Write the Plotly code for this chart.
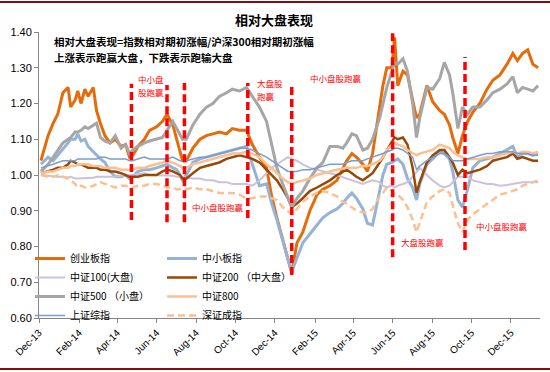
import plotly.graph_objects as go

# ---------------- data ----------------
dates = ["2013-12-04","2013-12-15","2013-12-23","2013-12-30","2014-01-07","2014-01-15","2014-01-19","2014-01-26",
         "2014-01-30","2014-02-04","2014-02-10","2014-02-15","2014-02-23","2014-02-28","2014-03-06","2014-03-13",
         "2014-03-21","2014-03-29","2014-04-07","2014-04-14","2014-04-20","2014-04-25","2014-05-03","2014-05-13",
         "2014-05-21","2014-06-01","2014-06-10","2014-06-17","2014-06-26","2014-07-02","2014-07-07","2014-07-11",
         "2014-07-17","2014-07-27","2014-08-07","2014-08-17","2014-08-27","2014-09-06","2014-09-17","2014-09-26",
         "2014-10-07","2014-10-18","2014-10-27","2014-11-07","2014-11-18","2014-11-26","2014-12-04","2014-12-13",
         "2014-12-21","2014-12-27","2015-01-04","2015-01-13","2015-01-24","2015-02-04","2015-02-13","2015-02-24",
         "2015-03-07","2015-03-16","2015-03-22","2015-03-30","2015-04-06","2015-04-16","2015-04-23","2015-05-01",
         "2015-05-12","2015-05-17","2015-05-23","2015-05-31","2015-06-04","2015-06-09","2015-06-17","2015-06-24",
         "2015-07-02","2015-07-08","2015-07-13","2015-07-24","2015-08-02","2015-08-13","2015-08-20","2015-08-28",
         "2015-09-02","2015-09-10","2015-09-17","2015-09-25","2015-10-03","2015-10-14","2015-10-25","2015-11-03",
         "2015-11-14","2015-11-25","2015-12-04","2015-12-11","2015-12-19","2015-12-27","2016-01-04","2016-01-12"]

cyb = [1.04,1.11,1.145,1.17,1.23,1.245,1.19,1.21,1.235,1.20,1.24,1.22,1.245,1.18,1.145,1.11,
       1.09,1.10,1.08,1.085,1.05,1.055,1.08,1.10,1.125,1.135,1.15,1.17,1.14,1.10,1.06,1.04,
       1.04,1.075,1.10,1.11,1.115,1.12,1.115,1.13,1.125,1.125,1.085,1.05,1.02,0.94,0.88,0.82,
       0.77,0.725,0.81,0.84,0.90,0.945,0.96,0.97,0.985,1.02,1.04,1.06,1.05,1.03,1.01,1.06,
       1.20,1.25,1.30,1.30,1.385,1.25,1.29,1.28,1.21,1.16,1.17,1.25,1.205,1.18,1.17,1.14,
       1.105,1.06,1.11,1.15,1.175,1.20,1.24,1.265,1.28,1.31,1.34,1.32,1.34,1.35,1.31,1.30]

zxb = [1.03,1.05,1.04,1.055,1.07,1.09,1.10,1.10,1.115,1.095,1.10,1.08,1.065,1.055,1.045,1.035,
       1.01,0.995,0.995,1.00,0.99,0.995,1.01,1.015,1.015,1.02,1.025,1.03,1.02,1.015,1.00,0.985,
       1.00,1.035,1.045,1.05,1.055,1.06,1.065,1.07,1.075,1.08,1.03,0.97,0.975,0.92,0.875,0.815,
       0.765,0.73,0.77,0.81,0.835,0.86,0.88,0.895,0.905,0.92,0.935,0.95,0.935,0.905,0.865,0.86,
       0.96,1.00,1.03,1.035,1.04,1.045,1.03,0.99,0.965,0.93,0.975,1.03,1.045,1.065,1.06,1.045,
       1.01,0.93,0.91,0.96,1.02,1.04,1.045,1.05,1.06,1.07,1.08,1.05,1.06,1.06,1.055,1.06]

zz100 = [1.00,0.998,0.995,0.995,0.995,0.993,0.995,0.99,0.99,0.99,0.99,0.99,0.992,0.995,0.995,0.995,
         0.995,0.995,0.998,1.00,1.00,1.00,1.002,1.005,1.00,1.00,1.00,1.00,0.998,0.995,0.995,0.995,
         0.993,0.99,0.99,0.985,0.985,0.98,0.98,0.975,0.975,0.975,0.97,0.985,1.005,1.02,1.03,1.04,
         1.05,1.045,1.04,1.03,1.02,1.015,1.01,1.005,1.00,0.995,0.99,0.985,0.98,0.975,0.98,0.985,
         0.98,0.97,0.965,0.97,0.965,0.97,0.975,0.98,0.995,1.01,1.02,1.00,0.985,0.97,0.965,0.97,
         0.98,0.995,0.995,0.995,0.985,0.98,0.975,0.975,0.97,0.972,0.975,0.978,0.98,0.98,0.98,0.98]

zz200 = [1.005,1.01,1.015,1.02,1.02,1.03,1.04,1.035,1.03,1.03,1.025,1.02,1.02,1.02,1.015,1.015,
         1.01,1.01,1.005,1.00,0.995,0.995,0.995,1.00,1.00,1.00,1.01,1.015,1.01,1.005,1.00,0.99,
         0.99,1.005,1.02,1.025,1.03,1.035,1.045,1.05,1.055,1.05,1.045,1.035,1.015,1.00,0.985,0.96,
         0.935,0.91,0.92,0.935,0.955,0.965,0.975,0.985,1.00,1.01,1.015,1.005,0.995,0.985,0.995,1.005,
         1.035,1.05,1.07,1.095,1.105,1.10,1.105,1.085,1.02,0.95,0.98,1.035,1.055,1.07,1.07,1.05,
         1.035,1.00,1.015,1.005,1.01,1.015,1.025,1.04,1.045,1.05,1.06,1.045,1.05,1.045,1.04,1.04]

zz500 = [1.01,1.03,1.05,1.07,1.09,1.10,1.105,1.12,1.12,1.125,1.135,1.13,1.14,1.145,1.105,1.095,
         1.09,1.11,1.075,1.085,1.06,1.07,1.08,1.09,1.095,1.10,1.105,1.125,1.15,1.13,1.115,1.10,
         1.10,1.14,1.17,1.19,1.20,1.22,1.23,1.24,1.235,1.245,1.22,1.19,1.15,1.08,1.02,0.975,
         0.935,0.91,0.935,0.955,0.99,1.02,1.035,1.08,1.08,1.075,1.09,1.115,1.11,1.07,1.075,1.10,
         1.16,1.20,1.245,1.29,1.315,1.31,1.325,1.29,1.20,1.105,1.16,1.245,1.24,1.27,1.315,1.28,
         1.23,1.13,1.19,1.17,1.19,1.19,1.21,1.23,1.24,1.255,1.275,1.23,1.245,1.24,1.235,1.25]

zz800 = [1.005,1.01,1.01,1.015,1.02,1.02,1.025,1.025,1.03,1.03,1.03,1.03,1.025,1.025,1.025,1.02,
         1.02,1.02,1.015,1.015,1.015,1.015,1.02,1.02,1.025,1.03,1.035,1.04,1.035,1.03,1.025,1.02,
         1.02,1.03,1.035,1.04,1.045,1.05,1.055,1.06,1.06,1.065,1.06,1.05,1.03,1.02,1.005,0.99,
         0.98,0.975,0.98,0.985,0.99,1.00,1.005,1.01,1.015,1.018,1.02,1.02,1.02,1.025,1.025,1.03,
         1.04,1.05,1.07,1.085,1.09,1.085,1.08,1.07,1.06,1.055,1.06,1.065,1.07,1.085,1.08,1.075,
         1.065,1.055,1.05,1.045,1.045,1.045,1.05,1.05,1.055,1.06,1.065,1.06,1.065,1.065,1.06,1.065]

szzz = [1.02,1.025,1.03,1.035,1.04,1.04,1.04,1.04,1.045,1.045,1.045,1.045,1.045,1.045,1.05,1.05,
        1.045,1.045,1.045,1.045,1.04,1.04,1.045,1.05,1.045,1.045,1.045,1.045,1.05,1.045,1.04,1.04,
        1.04,1.045,1.05,1.05,1.055,1.06,1.065,1.07,1.075,1.075,1.07,1.06,1.05,1.04,1.03,1.02,
        1.01,1.01,1.01,1.015,1.015,1.02,1.025,1.03,1.03,1.03,1.035,1.04,1.04,1.04,1.045,1.05,
        1.055,1.06,1.065,1.07,1.075,1.075,1.07,1.06,1.05,1.015,1.025,1.04,1.05,1.06,1.06,1.05,
        1.04,1.04,1.04,1.045,1.05,1.055,1.06,1.06,1.065,1.065,1.065,1.06,1.06,1.06,1.055,1.055]

szcz = [1.00,0.995,0.995,1.00,0.995,0.99,0.985,0.975,0.965,0.97,0.965,0.965,0.97,0.975,0.98,0.975,
        0.97,0.965,0.97,0.97,0.965,0.965,0.97,0.97,0.975,0.975,0.97,0.965,0.965,0.96,0.96,0.96,
        0.96,0.965,0.96,0.96,0.955,0.95,0.95,0.95,0.945,0.935,0.935,0.94,0.94,0.935,0.93,0.91,
        0.90,0.89,0.905,0.925,0.94,0.95,0.955,0.95,0.94,0.925,0.92,0.91,0.90,0.895,0.895,0.905,
        0.94,0.95,0.965,0.955,0.945,0.945,0.93,0.91,0.875,0.84,0.865,0.925,0.94,0.955,0.96,0.95,
        0.915,0.865,0.84,0.875,0.89,0.905,0.92,0.93,0.945,0.95,0.955,0.96,0.97,0.975,0.98,0.985]

series_names = ["创业板指", "中小板指", "中证100(大盘)", "中证200 （中大盘）",
                "中证500 （小盘）", "中证800", "上证综指", "深证成指"]
series_values = [cyb, zxb, zz100, zz200, zz500, zz800, szzz, szcz]

x_tick_vals = ["2013-12-01","2014-02-01","2014-04-01","2014-06-01","2014-08-01","2014-10-01","2014-12-01",
               "2015-02-01","2015-04-01","2015-06-01","2015-08-01","2015-10-01","2015-12-01"]
x_tick_text = ["Dec-13","Feb-14","Apr-14","Jun-14","Aug-14","Oct-14","Dec-14",
               "Feb-15","Apr-15","Jun-15","Aug-15","Oct-15","Dec-15"]
y_tick_vals = [0.6, 0.7, 0.8, 0.9, 1.0, 1.1, 1.2, 1.3, 1.4]

period_dates = ["2014-04-23","2014-06-17","2014-07-14","2014-10-20","2014-12-27","2015-06-01","2015-09-21"]

# ---------------- styling ----------------
CJK = "Noto Sans CJK SC"
LAT = "Liberation Sans"
styles = [
    dict(color="#E46C0A", width=3, dash="solid", legend="legend"),
    dict(color="#95B3D7", width=3, dash="solid", legend="legend2"),
    dict(color="#CCC1DA", width=2, dash="solid", legend="legend"),
    dict(color="#984807", width=2.5, dash="solid", legend="legend2"),
    dict(color="#A6A6A6", width=3, dash="solid", legend="legend"),
    dict(color="#FAC090", width=2.5, dash="solid", legend="legend2"),
    dict(color="#7A9CCF", width=1.5, dash="solid", legend="legend"),
    dict(color="#FAC090", width=2.5, dash="7px,4px", legend="legend2"),
]
line_spans = [(0.874, 1.255), (0.868, 1.252), (0.868, 1.257), (0.88, 1.257),
              (0.72, 1.257), (0.77, 1.40), (0.79, 1.33)]

L, R, T, B = 39, 10, 32, 54
W, H = 550, 372
PW, PH = W - L - R, H - T - B


def px(p):
    return (p - L) / PW


def py(p):
    return (H - B - p) / PH


fig = go.Figure()
for name, vals, st in zip(series_names, series_values, styles):
    fig.add_trace(go.Scatter(
        x=dates, y=vals, name=name, mode="lines",
        line=dict(color=st["color"], width=st["width"], dash=st["dash"]),
        legend=st["legend"], hoverinfo="skip"))

shapes = []
for d, (y0, y1) in zip(period_dates, line_spans):
    shapes.append(dict(type="line", xref="x", yref="y", x0=d, x1=d, y0=y0, y1=y1,
                       line=dict(color="#FF0000", width=3.5, dash="8px,4px"), layer="above"))
for yy in (py(2), py(369)):
    shapes.append(dict(type="line", xref="paper", yref="paper", x0=px(0), x1=px(550), y0=yy, y1=yy,
                       line=dict(color="#7F1010", width=2)))

annotations = [
    dict(text="<b>相对大盘表现</b>", x=px(274), y=py(19), xanchor="center", yanchor="middle",
         font=dict(size=13, family=CJK, color="#000")),
    dict(text="<b>相对大盘表现=指数相对期初涨幅/沪深300相对期初涨幅</b>", x=px(52), y=py(41),
         xanchor="left", yanchor="middle", font=dict(size=10.5, family=CJK, color="#000")),
    dict(text="<b>上涨表示跑赢大盘，下跌表示跑输大盘</b>", x=px(52), y=py(57),
         xanchor="left", yanchor="middle", font=dict(size=10.5, family=CJK, color="#000")),
]
red_notes = [
    ("中小盘", 151, 79, "center"), ("股跑赢", 151, 92, "center"),
    ("大盘股", 255, 83, "left"), ("跑赢", 255, 96, "left"),
    ("中小盘股跑赢", 218, 207, "center"),
    ("中小盘股跑赢", 336, 78, "center"),
    ("大盘股跑赢", 422, 242, "center"),
    ("中小盘股跑赢", 502, 226, "center"),
]
for t, xp, yp, anc in red_notes:
    annotations.append(dict(text=t, x=px(xp), y=py(yp), xanchor=anc, yanchor="middle",
                            font=dict(size=8.5, family=CJK, color="#FF0000")))
for a in annotations:
    a.update(xref="paper", yref="paper", showarrow=False)

legend_common = dict(xanchor="left", yanchor="top", bgcolor="rgba(0,0,0,0)",
                     font=dict(size=10, family=CJK, color="#000"), tracegroupgap=0,
                     itemclick=False, itemdoubleclick=False)

fig.update_layout(
    template="none",
    width=W, height=H,
    margin=dict(l=L, r=R, t=T, b=B, pad=0, autoexpand=False),
    paper_bgcolor="white", plot_bgcolor="white",
    showlegend=True,
    legend=dict(x=px(30), y=py(244), **legend_common),
    legend2=dict(x=px(162), y=py(244), **legend_common),
    xaxis=dict(type="date", range=["2013-12-01", "2016-01-15"], tickvals=x_tick_vals,
               ticktext=x_tick_text, tickangle=-45, ticks="outside", ticklen=4,
               tickcolor="#868686", showline=True, linecolor="#868686", linewidth=1,
               showgrid=False, zeroline=False, automargin=False,
               tickfont=dict(size=10, family=LAT, color="#000")),
    yaxis=dict(range=[0.6, 1.4], tickvals=y_tick_vals, tickformat=".2f", ticks="outside",
               ticklen=4, tickcolor="#868686", showline=True, linecolor="#868686", linewidth=1,
               showgrid=False, zeroline=False, automargin=False,
               tickfont=dict(size=11, family=LAT, color="#000")),
    shapes=shapes,
    annotations=annotations,
    hovermode=False,
)

fig.write_html(
    "out.html",
    config={"displayModeBar": False, "staticPlot": True},
    post_script=("document.documentElement.style.margin='0';document.documentElement.style.overflow='hidden';"
                 "document.body.style.margin='0';document.body.style.padding='0';"
                 "document.body.style.overflow='hidden';"),
)
